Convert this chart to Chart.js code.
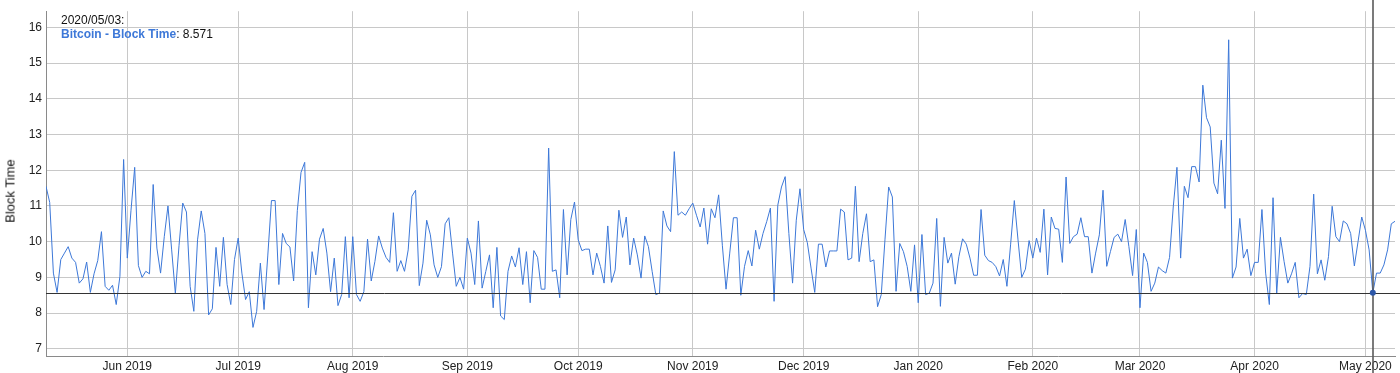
<!DOCTYPE html>
<html>
<head>
<meta charset="utf-8">
<title>Bitcoin - Block Time</title>
<script src="https://cdn.jsdelivr.net/npm/chart.js@4.4.1/dist/chart.umd.min.js"></script>
<style>
  html, body { margin: 0; padding: 0; background: #fff; }
  #wrap { position: relative; width: 1400px; height: 373px; }
  #hover {
    position: absolute; left: 61px; top: 13px;
    font: 12px "Liberation Sans", Arial, Helvetica, sans-serif;
    line-height: 14px; color: #111;
  }
  #hover b { color: #3d78d8; }
  #ytitle {
    position: absolute; left: 10px; top: 191px;
    transform: translate(-50%, -50%) rotate(-90deg);
    font: 13px "Liberation Sans", Arial, Helvetica, sans-serif;
    color: #111; white-space: nowrap;
  }
</style>
</head>
<body>
<div id="wrap">
  <canvas id="chart" width="1400" height="373"></canvas>
  <div id="hover"></div>
  <div id="ytitle">Block Time</div>
</div>
<script>
// daily series, first point 2019/05/10
const startDate = '2019-05-10';
const seriesName = 'Bitcoin - Block Time';

const blockTime = [
  11.55, 11.1, 9.12, 8.58, 9.5, 9.68, 9.86, 9.54, 9.42, 8.84, 8.96, 9.43, 8.58, 9.1, 9.47,
  10.28, 8.75, 8.64, 8.78, 8.24, 9.03, 12.3, 9.54, 10.88, 12.08, 9.33, 9.0, 9.17, 9.1, 11.6,
  9.82, 9.12, 10.14, 11.0, 9.77, 8.55, 9.9, 11.08, 10.83, 8.75, 8.05, 10.05, 10.86, 10.23, 7.95,
  8.12, 9.84, 8.75, 10.12, 8.8, 8.24, 9.5, 10.1, 9.12, 8.38, 8.6, 7.6, 8.05, 9.4, 8.1,
  9.6, 11.15, 11.15, 8.8, 10.23, 9.95, 9.85, 8.9, 10.87, 11.94, 12.22, 8.15, 9.72, 9.07, 10.07,
  10.37, 9.68, 8.6, 9.54, 8.21, 8.52, 10.14, 8.43, 10.14, 8.52, 8.33, 8.6, 10.07, 8.9, 9.45,
  10.16, 9.82, 9.56, 9.42, 10.81, 9.17, 9.47, 9.17, 9.77, 11.27, 11.44, 8.77, 9.4, 10.6, 10.19,
  9.35, 9.0, 9.3, 10.5, 10.67, 9.68, 8.75, 9.0, 8.67, 10.1, 9.68, 8.8, 10.58, 8.7, 9.17,
  9.63, 8.15, 9.84, 7.92, 7.82, 9.17, 9.6, 9.29, 9.83, 8.8, 9.72, 8.29, 9.75, 9.56, 8.67,
  8.67, 12.62, 9.17, 9.21, 8.43, 10.9, 9.07, 10.62, 11.11, 10.05, 9.75, 9.79, 9.79, 9.07, 9.68,
  9.31, 8.84, 10.44, 8.86, 9.21, 10.88, 10.12, 10.69, 9.35, 10.1, 9.63, 8.98, 10.16, 9.86, 9.17,
  8.52, 8.56, 10.86, 10.44, 10.28, 12.52, 10.74, 10.83, 10.74, 10.92, 11.08, 10.74, 10.41, 10.94, 9.93,
  10.92, 10.67, 11.31, 9.9, 8.67, 9.68, 10.67, 10.67, 8.5, 9.31, 9.75, 9.32, 10.32, 9.79, 10.23,
  10.56, 10.94, 8.33, 11.02, 11.53, 11.82, 10.23, 8.84, 10.6, 11.48, 10.34, 9.97, 9.26, 8.58, 9.93,
  9.93, 9.29, 9.74, 9.74, 9.74, 10.91, 10.83, 9.49, 9.54, 11.55, 9.44, 10.23, 10.78, 9.44, 9.49,
  8.18, 8.52, 10.05, 11.53, 11.25, 8.61, 9.95, 9.72, 9.31, 8.61, 9.91, 8.29, 10.2, 8.52, 8.56,
  8.84, 10.65, 8.19, 10.12, 9.4, 9.68, 8.81, 9.58, 10.08, 9.93, 9.54, 9.06, 9.06, 10.9, 9.62,
  9.47, 9.42, 9.3, 9.04, 9.5, 8.75, 9.93, 11.15, 10.05, 9.0, 9.23, 10.03, 9.54, 10.1, 9.7,
  10.91, 9.07, 10.69, 10.37, 10.35, 9.42, 11.81, 9.95, 10.14, 10.21, 10.67, 10.14, 10.14, 9.12, 9.68,
  10.19, 11.44, 9.31, 9.72, 10.12, 10.21, 10.0, 10.62, 9.86, 9.05, 10.34, 8.15, 9.68, 9.42, 8.61,
  8.84, 9.29, 9.19, 9.12, 9.56, 10.97, 12.08, 9.54, 11.55, 11.23, 12.1, 12.1, 11.67, 14.38, 13.47,
  13.21, 11.64, 11.34, 12.84, 10.93, 15.65, 8.98, 9.29, 10.65, 9.54, 9.79, 9.05, 9.42, 9.42, 10.9,
  9.12, 8.24, 11.23, 8.56, 10.12, 9.44, 8.84, 9.1, 9.42, 8.43, 8.55, 8.52, 9.31, 11.33, 9.1,
  9.49, 8.92, 9.58, 10.99, 10.14, 10.0, 10.58, 10.5, 10.23, 9.32, 10.0, 10.69, 10.32, 9.77, 8.571,
  9.12, 9.12, 9.35, 9.77, 10.5, 10.57
];

const monthLabels = [
  'Jun 2019', 'Jul 2019', 'Aug 2019', 'Sep 2019', 'Oct 2019', 'Nov 2019',
  'Dec 2019', 'Jan 2020', 'Feb 2020', 'Mar 2020', 'Apr 2020', 'May 2020'
];
const yTicks = [7, 8, 9, 10, 11, 12, 13, 14, 15, 16];
const yMin = 6.8;
const yMax = 16.45;

// highlighted point (the hover readout in the top left)
const hoverIndex = 359;

const LINE_COLOR = '#3d78d8';
const GRID_COLOR = '#c8c8c8';
const FONT = '"Liberation Sans", Arial, Helvetica, sans-serif';

function dayToDate(i) {
  const d = new Date(startDate + 'T00:00:00Z');
  d.setUTCDate(d.getUTCDate() + i);
  return d;
}

// day indexes where a new month starts
const monthStarts = [];
blockTime.forEach((v, i) => {
  if (i > 0 && dayToDate(i).getUTCDate() === 1) monthStarts.push(i);
});

function fmtDate(d) {
  const p = n => String(n).padStart(2, '0');
  return d.getUTCFullYear() + '/' + p(d.getUTCMonth() + 1) + '/' + p(d.getUTCDate());
}

document.getElementById('hover').innerHTML =
  fmtDate(dayToDate(hoverIndex)) + ':<br><b>' + seriesName + '</b>: ' + blockTime[hoverIndex];

const crosshair = {
  id: 'crosshair',
  afterDatasetsDraw(chart) {
    const { ctx, chartArea, scales } = chart;
    const px = scales.x.getPixelForValue(hoverIndex);
    const py = scales.y.getPixelForValue(blockTime[hoverIndex]);
    ctx.save();
    ctx.strokeStyle = '#333';
    ctx.lineWidth = 1;
    ctx.beginPath();
    ctx.moveTo(chartArea.left, Math.round(py) + 0.5);
    ctx.lineTo(chart.width, Math.round(py) + 0.5);
    ctx.stroke();
    ctx.strokeStyle = 'rgba(90,90,90,0.8)';
    ctx.lineWidth = 2;
    ctx.beginPath();
    ctx.moveTo(Math.round(px), 0);
    ctx.lineTo(Math.round(px), chart.height);
    ctx.stroke();
    ctx.fillStyle = '#2d57a8';
    ctx.beginPath();
    ctx.arc(px, py, 3, 0, Math.PI * 2);
    ctx.fill();
    ctx.restore();
  }
};

new Chart(document.getElementById('chart'), {
  type: 'line',
  data: {
    datasets: [{
      label: seriesName,
      data: blockTime.map((v, i) => ({ x: i, y: v })),
      borderColor: LINE_COLOR,
      borderWidth: 1,
      pointRadius: 0,
      tension: 0,
      fill: false
    }]
  },
  options: {
    responsive: false,
    animation: false,
    devicePixelRatio: 1,
    layout: { padding: { top: 9, right: 5, left: 0, bottom: 0 } },
    plugins: {
      legend: { display: false },
      tooltip: { enabled: false }
    },
    scales: {
      x: {
        type: 'linear',
        min: 0,
        max: blockTime.length - 1,
        afterBuildTicks: axis => { axis.ticks = monthStarts.map(v => ({ value: v })); },
        afterFit: scale => { scale.height = 17; },
        grid: { color: GRID_COLOR, drawTicks: false },
        border: { color: '#8a8a8a', width: 1 },
        ticks: {
          autoSkip: false,
          maxRotation: 0,
          padding: 3,
          color: '#222',
          font: { family: FONT, size: 12 },
          callback: v => monthLabels[monthStarts.indexOf(v)]
        }
      },
      y: {
        min: yMin,
        max: yMax,
        afterBuildTicks: axis => { axis.ticks = yTicks.map(v => ({ value: v })); },
        afterFit: scale => { scale.width = 46; },
        grid: { color: GRID_COLOR, drawTicks: false },
        border: { color: '#8a8a8a', width: 1 },
        ticks: {
          padding: 4,
          color: '#222',
          font: { family: FONT, size: 12 }
        }
      }
    }
  },
  plugins: [crosshair]
});
</script>
</body>
</html>
